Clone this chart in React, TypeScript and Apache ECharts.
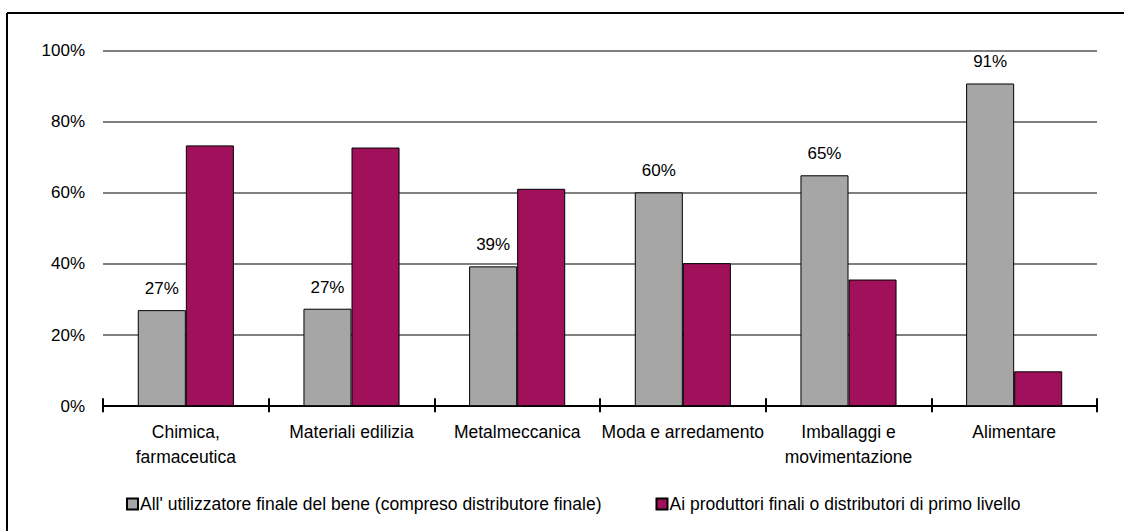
import React, { useEffect, useRef } from "react";
import * as echarts from "echarts";

const categories = [
  "Chimica,\nfarmaceutica",
  "Materiali edilizia",
  "Metalmeccanica",
  "Moda e arredamento",
  "Imballaggi e\nmovimentazione",
  "Alimentare",
];
const seriesNames = [
  "All' utilizzatore finale del bene (compreso distributore finale)",
  "Ai produttori finali o distributori di primo livello",
];
const utilizzatoreValues = [27.0, 27.4, 39.3, 60.1, 64.9, 90.7];
const produttoriValues = [73.3, 72.7, 61.1, 40.2, 35.6, 9.8];
const yTicks = [0, 20, 40, 60, 80, 100];

const FONT = "Arial, 'Liberation Sans', sans-serif";

export default function App() {
  const ref = useRef<HTMLDivElement>(null);
  useEffect(() => {
    if (!ref.current) return;
    const chart = echarts.init(ref.current, undefined, { renderer: "svg" });
    chart.setOption({
      animation: false,
      backgroundColor: "#ffffff",
      textStyle: { fontFamily: FONT },
      graphic: [
        { type: "line", shape: { x1: 7, y1: 13, x2: 1124, y2: 13 }, style: { stroke: "#000", lineWidth: 2 } },
        { type: "line", shape: { x1: 7, y1: 13, x2: 7, y2: 531 }, style: { stroke: "#000", lineWidth: 2 } },
      ],
      grid: { left: 103, right: 27, top: 50.4, bottom: 124.8, containLabel: false },
      legend: {
        bottom: 13,
        left: 121,
        itemWidth: 11,
        itemHeight: 11,
        itemGap: 54,
        icon: "rect",
        textStyle: { fontSize: 17.5, color: "#000", fontFamily: FONT, padding: [0, 0, 0, -3] },
        data: seriesNames,
      },
      xAxis: [
        {
          type: "category",
          data: categories,
          axisLine: { lineStyle: { color: "#000", width: 2 } },
          axisTick: { show: true, length: 6, lineStyle: { color: "#000", width: 2 } },
          axisLabel: { fontSize: 17.5, color: "#000", lineHeight: 25, margin: 13, interval: 0, fontFamily: FONT },
        },
        {
          type: "category",
          data: categories,
          position: "bottom",
          axisLine: { show: false },
          axisTick: { show: true, inside: true, length: 8, lineStyle: { color: "#000", width: 2 } },
          axisLabel: { show: false },
        },
      ],
      yAxis: {
        type: "value",
        min: 0,
        max: 100,
        interval: 20,
        axisLine: { show: false },
        axisTick: { show: false },
        splitLine: { lineStyle: { color: "#808080", width: 2 } },
        axisLabel: { fontSize: 17, color: "#000", margin: 18, formatter: (v: number) => (yTicks.includes(v) ? v + "%" : "") },
      },
      series: [
        {
          name: seriesNames[0],
          type: "bar",
          data: utilizzatoreValues,
          barGap: "0%",
          barCategoryGap: "42%",
          itemStyle: { color: "#A6A6A6", borderColor: "#000", borderWidth: 1 },
          label: {
            show: true,
            position: "top",
            distance: 13,
            fontSize: 17,
            color: "#000",
            fontFamily: FONT,
            formatter: (p: any) => Math.round(p.value) + "%",
          },
        },
        {
          name: seriesNames[1],
          type: "bar",
          data: produttoriValues,
          barGap: "0%",
          barCategoryGap: "42%",
          itemStyle: { color: "#A1105A", borderColor: "#000", borderWidth: 1 },
        },
      ],
    });
    return () => chart.dispose();
  }, []);
  return <div ref={ref} style={{ position: "fixed", left: 0, top: 0, width: 1124, height: 531 }} />;
}
